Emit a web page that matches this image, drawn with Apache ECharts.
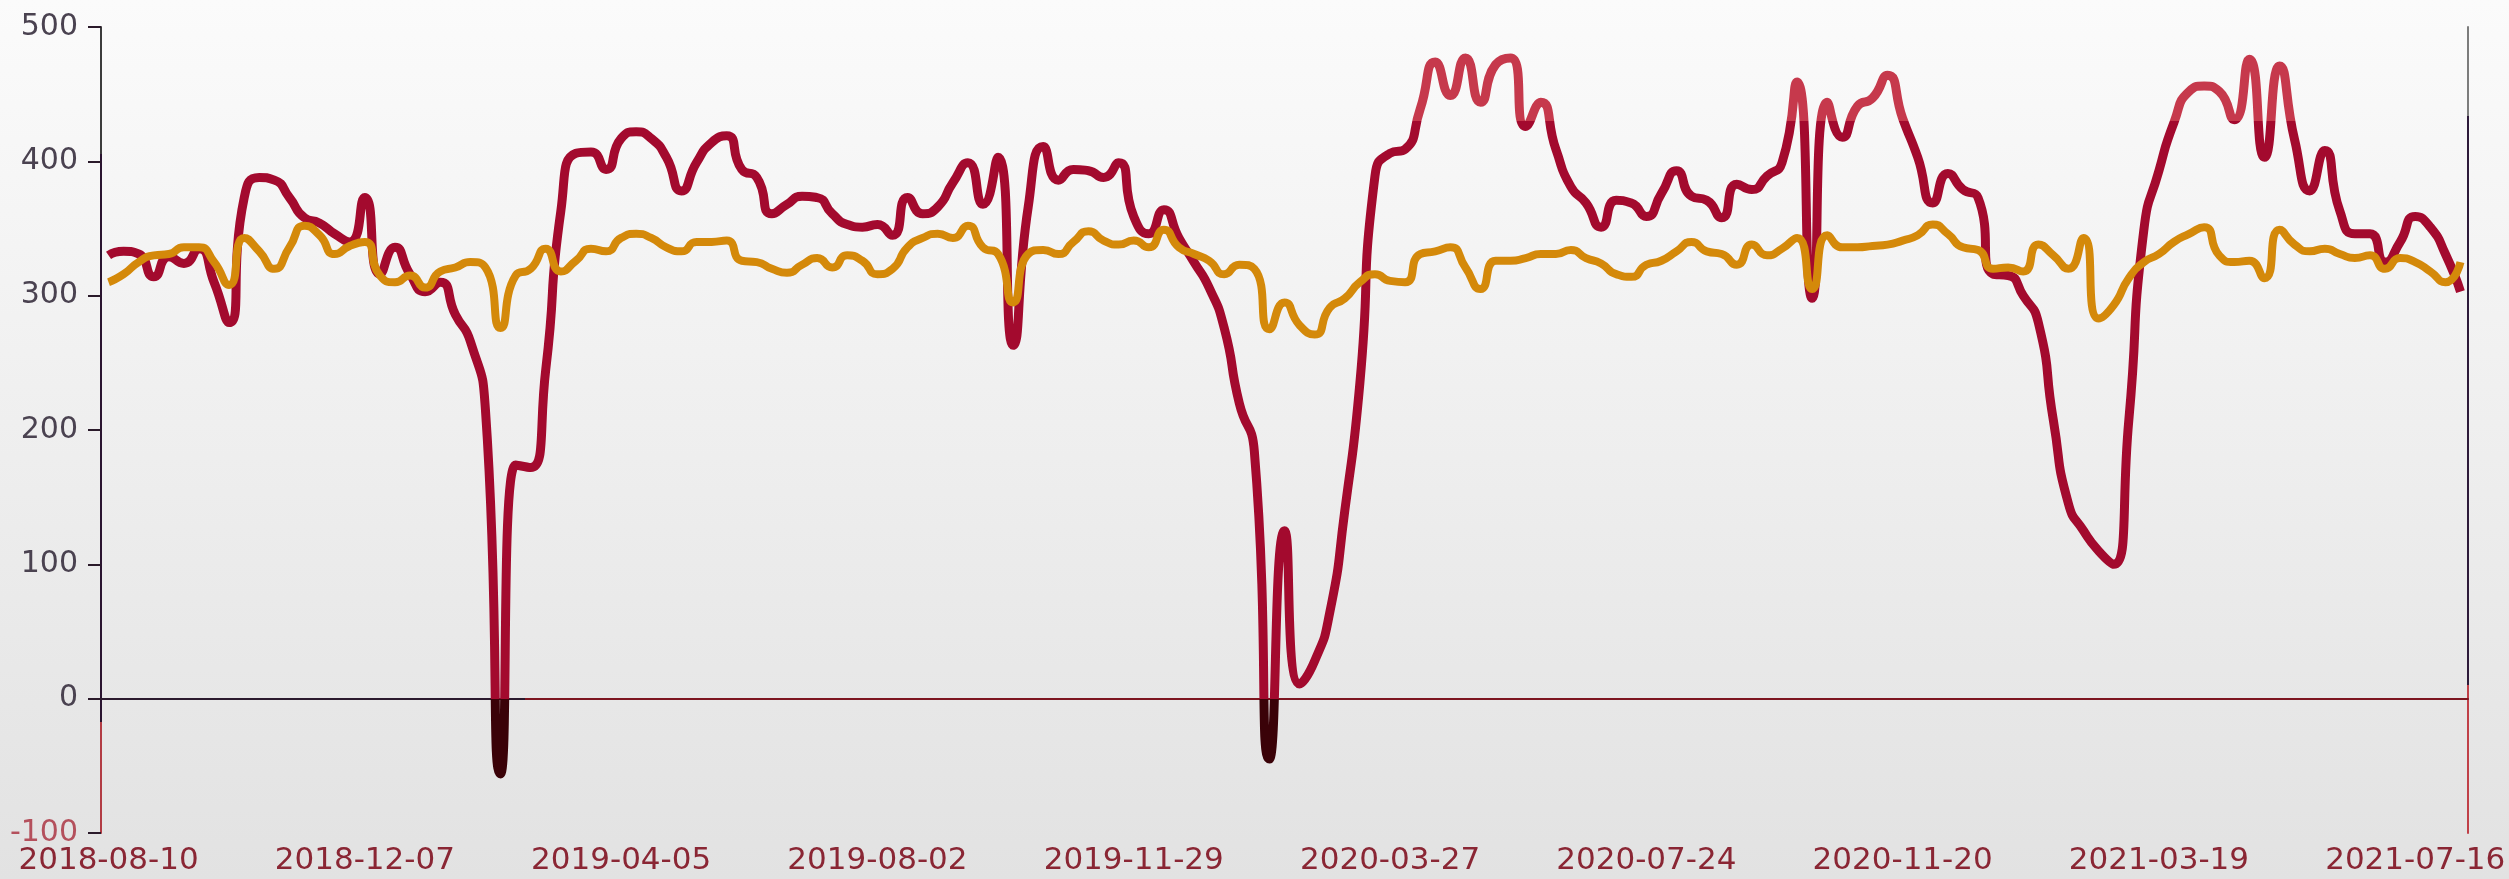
<!DOCTYPE html>
<html>
<head>
<meta charset="utf-8">
<script src="https://cdn.jsdelivr.net/npm/echarts@6/dist/echarts.min.js"></script>
<style>
  html, body { margin: 0; padding: 0; }
  #chart { width: 2509px; height: 879px; }
</style>
</head>
<body>
<div id="chart"></div>
<script>
// weekly categories, first Friday 2018-08-10
const startDate = [2018, 7, 10];
const weekCount = 157;
const dates = [];
for (let i = 0; i < weekCount; i++) {
  const t = Date.UTC(startDate[0], startDate[1], startDate[2]) + i * 7 * 86400000;
  dates.push(new Date(t).toISOString().slice(0, 10));
}

const yMin = -100;
const yMax = 500;
const yStep = 100;

const redValues = [
  330, 333, 331, 314, 329, 324, 335, 310, 280, 373,
  388, 386, 373, 358, 354, 346, 340, 373, 316, 336,
  316, 303, 310, 286, 266, 215, -56, 174, 172, 245,
  363, 406, 407, 394, 417, 422, 417, 403, 378, 399,
  414, 419, 394, 388, 361, 368, 374, 373, 361, 353,
  351, 353, 345, 373, 361, 366, 384, 399, 368, 403,
  263, 366, 411, 386, 394, 393, 388, 399, 359, 346,
  364, 343, 325, 306, 276, 220, 184, -45, 125, 11,
  28, 64, 140, 235, 389, 406, 409, 439, 474, 449,
  477, 444, 472, 477, 426, 444, 409, 381, 369, 351,
  371, 369, 359, 376, 393, 374, 371, 358, 383, 379,
  389, 399, 459, 298, 444, 418, 441, 447, 464, 432,
  403, 369, 391, 379, 373, 316, 315, 300, 280, 207,
  145, 125, 110, 100, 207, 349, 393, 429, 452, 456,
  452, 431, 476, 403, 471, 416, 378, 408, 363, 346,
  346, 325, 340, 359, 351, 331, 303
];

const orangeValues = [
  310, 316, 325, 330, 331, 336, 336, 325, 308, 343,
  333, 320, 336, 352, 345, 331, 337, 340, 315, 310,
  315, 306, 318, 321, 325, 321, 276, 315, 320, 335,
  318, 326, 335, 333, 343, 346, 343, 336, 333, 340,
  340, 341, 326, 325, 320, 317, 323, 328, 321, 330,
  326, 316, 320, 336, 343, 346, 343, 352, 336, 331,
  295, 331, 334, 331, 340, 348, 341, 338, 341, 336,
  349, 336, 331, 326, 316, 323, 320, 275, 295, 278,
  271, 291, 298, 310, 316, 311, 310, 331, 333, 336,
  321, 305, 326, 326, 328, 331, 331, 334, 328, 324,
  316, 314, 323, 326, 333, 340, 333, 331, 323, 338,
  330, 335, 343, 305, 345, 336, 336, 337, 338, 341,
  345, 353, 346, 336, 334, 320, 321, 318, 338, 330,
  320, 343, 283, 293, 313, 325, 331, 340, 346, 351,
  330, 325, 326, 313, 349, 338, 333, 335, 331, 328,
  330, 320, 328, 325, 318, 310, 325
];

const G = echarts.graphic.LinearGradient;
const font = 'DejaVu Sans';

const chart = echarts.init(document.getElementById('chart'));
chart.setOption({
  animation: false,
  backgroundColor: new G(0, 0, 0, 1, [
    { offset: 0, color: '#fbfbfb' },
    { offset: 1, color: '#e2e2e2' }
  ]),
  grid: { left: 101, right: 41, top: 27, bottom: 46 },
  visualMap: {
    show: false,
    type: 'piecewise',
    seriesIndex: 0,
    dimension: 1,
    pieces: [
      { lt: 0, color: '#3a0208' },
      { gte: 0, lte: 430, color: '#a30a2e' },
      { gt: 430, color: '#c6394c' }
    ]
  },
  xAxis: [
    {
      type: 'category',
      data: dates,
      boundaryGap: true,
      axisLine: { show: false, onZero: false },
      axisTick: { show: false },
      axisLabel: {
        interval: 16,
        margin: 12,
        fontFamily: font,
        fontSize: 31,
        color: '#8a2634'
      }
    },
    {
      type: 'category',
      data: dates,
      position: 'top',
      boundaryGap: true,
      axisLine: {
        onZero: true,
        lineStyle: {
          width: 2,
          color: new G(0, 0, 1, 0, [
            { offset: 0, color: '#2b1a2e' },
            { offset: 0.18, color: '#2b1a2e' },
            { offset: 0.18, color: '#7d1620' },
            { offset: 1, color: '#7d1620' }
          ])
        }
      },
      axisTick: {
        interval: 16,
        inside: true,
        length: 11,
        lineStyle: { color: '#3a1a22', width: 2 }
      },
      axisLabel: { show: false }
    }
  ],
  yAxis: [
    {
      type: 'value',
      min: yMin,
      max: yMax,
      interval: yStep,
      splitLine: { show: false },
      axisLine: {
        show: true,
        lineStyle: {
          width: 2,
          color: new G(0, 0, 0, 1, [
            { offset: 0, color: '#3c3c3c' },
            { offset: 0.16, color: '#3c3c3c' },
            { offset: 0.16, color: '#2a1430' },
            { offset: 0.86, color: '#2a1430' },
            { offset: 0.86, color: '#b23c44' },
            { offset: 1, color: '#b23c44' }
          ])
        }
      },
      axisTick: { show: true, length: 13, lineStyle: { color: '#2a1a2a', width: 2 } },
      axisLabel: {
        margin: 23,
        fontFamily: font,
        fontSize: 30,
        color: (v) => (v < 0 ? '#b4505c' : '#4a4250')
      }
    },
    {
      type: 'value',
      position: 'right',
      min: yMin,
      max: yMax,
      interval: yStep,
      splitLine: { show: false },
      axisLine: {
        show: true,
        lineStyle: {
          width: 2,
          color: new G(0, 0, 0, 1, [
            { offset: 0, color: '#7c7c7c' },
            { offset: 0.113, color: '#7c7c7c' },
            { offset: 0.113, color: '#2d1a3a' },
            { offset: 0.814, color: '#2d1a3a' },
            { offset: 0.814, color: '#c04048' },
            { offset: 1, color: '#c04048' }
          ])
        }
      },
      axisTick: { show: false },
      axisLabel: { show: false }
    }
  ],
  series: [
    {
      type: 'line',
      data: redValues,
      smooth: 0.6,
      showSymbol: false,
      lineStyle: { width: 9 }
    },
    {
      type: 'line',
      data: orangeValues,
      smooth: 0.6,
      showSymbol: false,
      itemStyle: { color: '#d4890a' },
      lineStyle: { width: 8, color: '#d4890a' }
    }
  ]
});
</script>
</body>
</html>
